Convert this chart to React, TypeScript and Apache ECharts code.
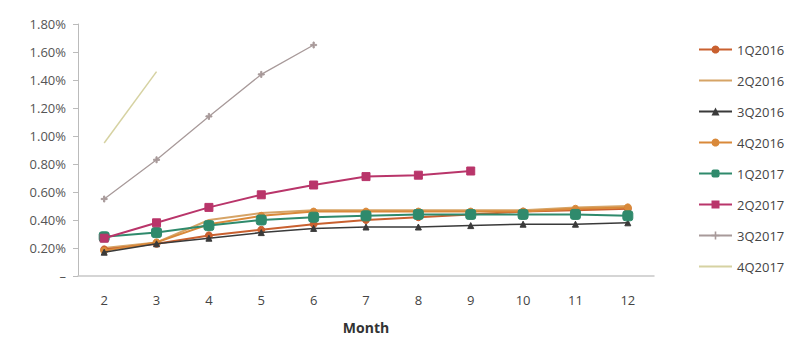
import React, { useEffect, useRef } from "react";
import * as echarts from "echarts";

const months = ["2", "3", "4", "5", "6", "7", "8", "9", "10", "11", "12"];
const yTicks = [0, 0.2, 0.4, 0.6, 0.8, 1.0, 1.2, 1.4, 1.6, 1.8];

const s1Q2016 = [0.19, 0.23, 0.29, 0.33, 0.37, 0.40, 0.42, 0.44, 0.46, 0.47, 0.48];
const s2Q2016 = [0.20, 0.24, 0.40, 0.45, 0.47, 0.47, 0.47, 0.47, 0.47, 0.49, 0.50];
const s3Q2016 = [0.17, 0.23, 0.27, 0.31, 0.34, 0.35, 0.35, 0.36, 0.37, 0.37, 0.38];
const s4Q2016 = [0.18, 0.24, 0.37, 0.43, 0.46, 0.46, 0.46, 0.46, 0.46, 0.48, 0.49];
const s1Q2017 = [0.28, 0.31, 0.36, 0.40, 0.42, 0.43, 0.44, 0.44, 0.44, 0.44, 0.43];
const s2Q2017 = [0.27, 0.38, 0.49, 0.58, 0.65, 0.71, 0.72, 0.75];
const s3Q2017 = [0.55, 0.83, 1.14, 1.44, 1.65];
const s4Q2017 = [0.95, 1.46];

const seriesNames = ["1Q2016", "2Q2016", "3Q2016", "4Q2016", "1Q2017", "2Q2017", "3Q2017", "4Q2017"];
const noMarker = ["2Q2016", "4Q2017"];

export default function App() {
  const ref = useRef<HTMLDivElement>(null);
  useEffect(() => {
    const chart = echarts.init(ref.current!, null, { renderer: "svg" });
    const font = "'Open Sans', 'Liberation Sans', sans-serif";
    const mk = (name: string, data: number[], color: string, symbol: string, symbolSize: number, width: number, z: number) => ({
      name,
      type: "line",
      data,
      symbol,
      symbolSize,
      showSymbol: symbol !== "none",
      z,
      lineStyle: { color, width },
      itemStyle: { color, borderColor: color },
    });
    chart.setOption({
      animation: false,
      backgroundColor: "#ffffff",
      textStyle: { fontFamily: font },
      grid: { left: 78, right: 146, top: 24, bottom: 82 },
      legend: {
        orient: "vertical",
        left: 693,
        top: 38,
        itemWidth: 33,
        itemHeight: 10,
        itemGap: 18,
        textStyle: { fontSize: 13, color: "#444", fontFamily: font },
        data: seriesNames.map((n) => (noMarker.includes(n) ? { name: n, itemStyle: { opacity: 0 } } : { name: n })),
      },
      xAxis: {
        type: "category",
        data: months,
        boundaryGap: true,
        name: "Month",
        nameLocation: "middle",
        nameGap: 44,
        nameTextStyle: { fontSize: 14, fontWeight: "bold", color: "#333", fontFamily: font },
        axisLine: { lineStyle: { color: "#c8c8c8", width: 1.5 } },
        axisTick: { show: false },
        axisLabel: { fontSize: 13, color: "#444", margin: 17, fontFamily: font },
      },
      yAxis: {
        type: "value",
        min: 0,
        max: 1.8,
        interval: 0.2,
        axisLine: { show: true, lineStyle: { color: "#bbbbbb" } },
        axisTick: { show: true, length: 5, lineStyle: { color: "#bbbbbb" } },
        splitLine: { show: false },
        axisLabel: {
          fontSize: 13,
          color: "#555",
          margin: 12,
          fontFamily: font,
          formatter: (v: number) => {
            const t = yTicks.find((x) => Math.abs(x - v) < 1e-6);
            if (t === undefined) return "";
            return t === 0 ? "–" : t.toFixed(2) + "%";
          },
        },
      },
      series: [
        mk("1Q2016", s1Q2016, "#c9602f", "circle", 7, 2, 3),
        mk("2Q2016", s2Q2016, "#d6a466", "none", 0, 2, 2),
        mk("3Q2016", s3Q2016, "#3a3a3a", "triangle", 6, 1.5, 4),
        mk("4Q2016", s4Q2016, "#d9893a", "circle", 7, 2, 3),
        mk("1Q2017", s1Q2017, "#2f8a6c", "roundRect", 10, 2, 5),
        mk("2Q2017", s2Q2017, "#b9356a", "rect", 8, 2, 6),
        mk("3Q2017", s3Q2017, "#a89a9a", "path://M4,0 L6,0 L6,4 L10,4 L10,6 L6,6 L6,10 L4,10 L4,6 L0,6 L0,4 L4,4 Z", 6, 1.3, 2),
        mk("4Q2017", s4Q2017, "#d6d2a2", "none", 0, 1.5, 2),
      ],
    });
    return () => chart.dispose();
  }, []);
  return <div ref={ref} style={{ position: "fixed", left: 0, top: 0, width: 800, height: 358 }} />;
}
